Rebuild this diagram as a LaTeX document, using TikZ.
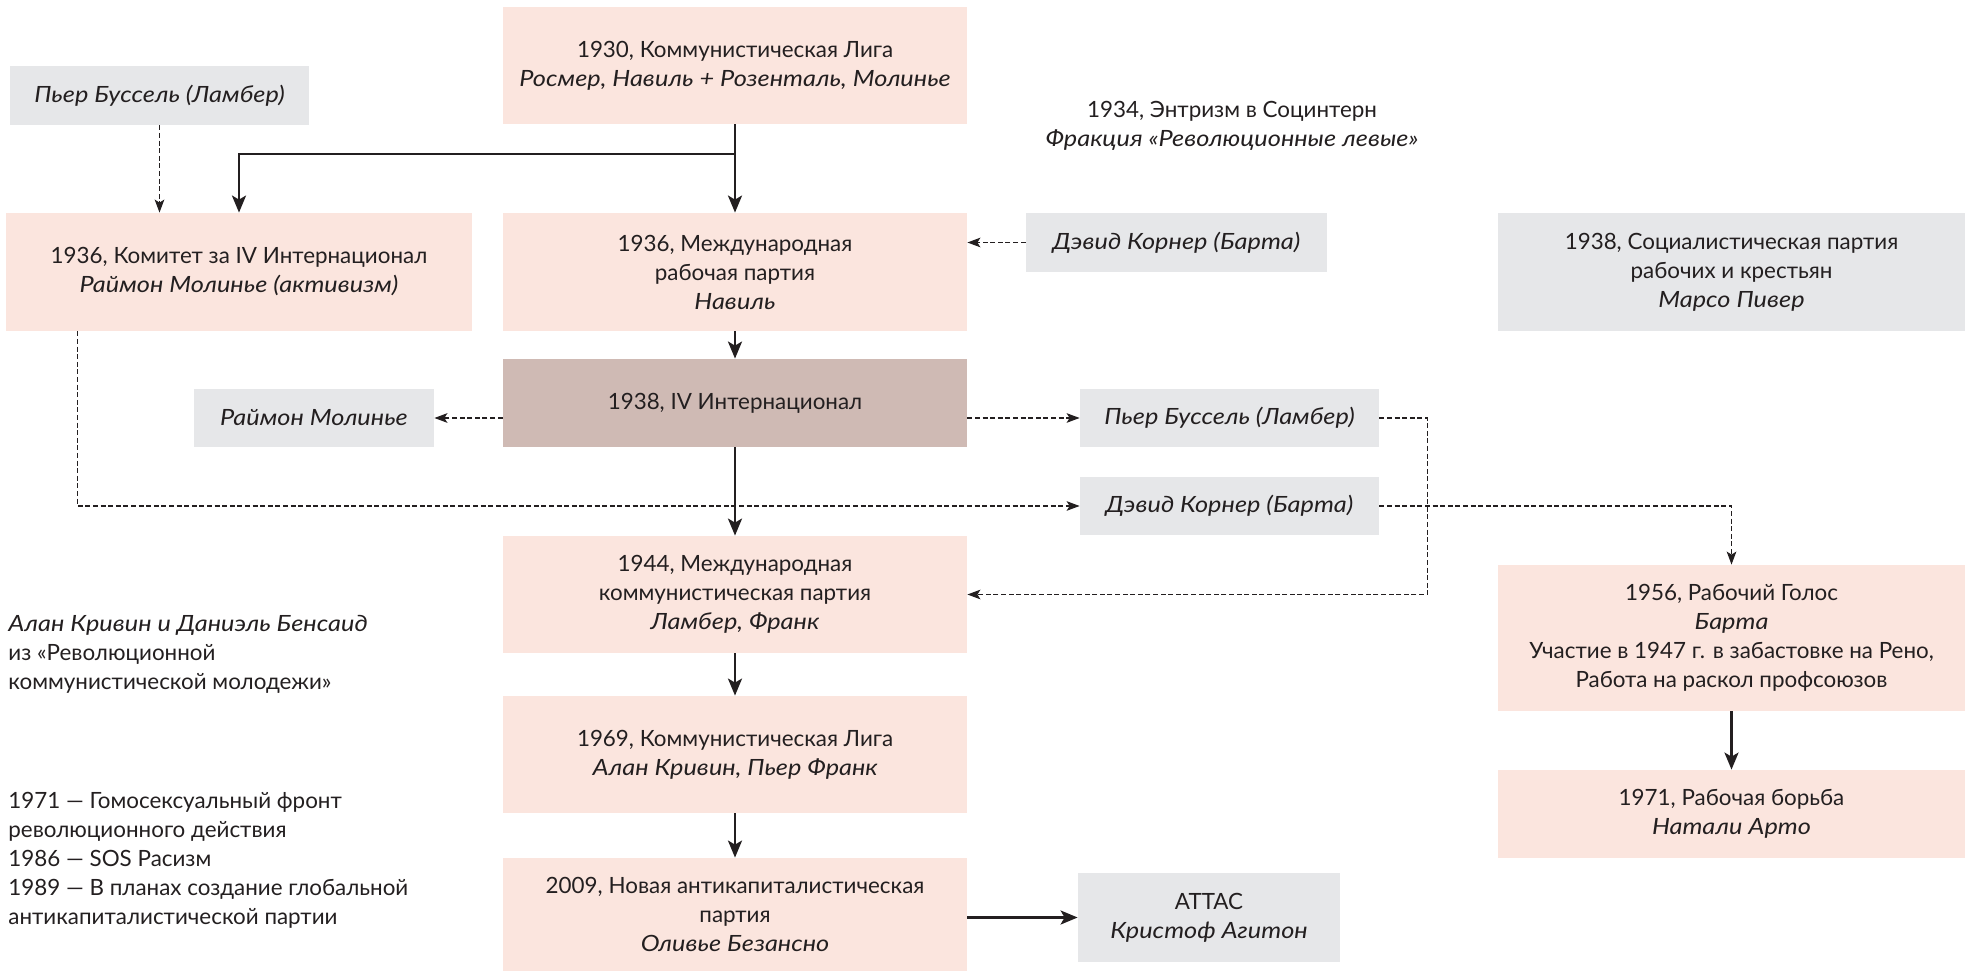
\documentclass[tikz,border=0pt]{standalone}
\usepackage{fontspec}
\setmainfont[ItalicFeatures={FakeStretch=1.13}]{Lato}
\usetikzlibrary{arrows.meta}
\definecolor{pinkbg}{RGB}{251,229,222}
\definecolor{graybg}{RGB}{230,231,233}
\definecolor{taupebg}{RGB}{207,186,180}
\definecolor{txt}{RGB}{35,31,32}
\begin{document}
\begin{tikzpicture}[x=0.5pt,y=-0.5pt,
  box/.style={inner sep=0pt, align=center, text=txt, font=\fontsize{11.2}{14.5}\selectfont},
  pinkbox/.style={box, fill=pinkbg},
  graybox/.style={box, fill=graybg},
  taupebox/.style={box, fill=taupebg},
  sz/.style 2 args={minimum width=#1*0.5pt, minimum height=#2*0.5pt},
  plain/.style={inner sep=0pt, text=txt, font=\fontsize{11.2}{14.5}\selectfont},
  solarr/.style={draw=txt, line width=1.3pt, -{Stealth[length=8.5pt,width=7pt,inset=2pt]}},
  dasharr/.style={draw=txt, line width=0.6pt, dash pattern=on 2.5pt off 1.3pt, -{Stealth[length=6.5pt,width=4.8pt,inset=1.5pt]}},
  dashline/.style={draw=txt, line width=0.6pt, dash pattern=on 2.5pt off 1.3pt}
]
\useasboundingbox (0,0) rectangle (1969,972);

% nodes
\node[pinkbox, sz={464}{117}] (n1930) at (735,65.5) {1930, Коммунистическая Лига\\ \textit{Росмер, Навиль + Розенталь, Молинье}};
\node[graybox, sz={299}{59}] (pb1) at (159.5,95.5) {\textit{Пьер Буссель (Ламбер)}};
\node[pinkbox, sz={466}{118}] (kom) at (239,272) {1936, Комитет за IV Интернационал\\ \textit{Раймон Молинье (активизм)}};
\node[pinkbox, sz={464}{118}] (mrp) at (735,272) {1936, Международная\\ рабочая партия\\ \textit{Навиль}};
\node[graybox, sz={301}{59}] (dk1) at (1176.5,242.5) {\textit{Дэвид Корнер (Барта)}};
\node[plain, align=center] (t1934) at (1232,126) {1934, Энтризм в Социнтерн\\ \textit{Фракция «Революционные левые»}};
\node[graybox, sz={467}{118}] (sprk) at (1731.5,272) {1938, Социалистическая партия\\ рабочих и крестьян\\ \textit{Марсо Пивер}};
\node[taupebox, sz={464}{88}] (ivint) at (735,403) {1938, IV Интернационал};
\node[graybox, sz={240}{58}] (rm) at (314,418) {\textit{Раймон Молинье}};
\node[graybox, sz={299}{58}] (pb2) at (1229.5,418) {\textit{Пьер Буссель (Ламбер)}};
\node[graybox, sz={299}{58}] (dk2) at (1229.5,506) {\textit{Дэвид Корнер (Барта)}};
\node[pinkbox, sz={464}{117}] (n1944) at (735,594.5) {1944, Международная\\ коммунистическая партия\\ \textit{Ламбер, Франк}};
\node[pinkbox, sz={467}{146}] (n1956) at (1731.5,638) {1956, Рабочий Голос\\ \textit{Барта}\\ Участие в 1947 г. в забастовке на Рено,\\ Работа на раскол профсоюзов};
\node[pinkbox, sz={467}{88}] (n1971) at (1731.5,814) {1971, Рабочая борьба\\ \textit{Натали Арто}};
\node[pinkbox, sz={464}{117}] (n1969) at (735,754.5) {1969, Коммунистическая Лига\\ \textit{Алан Кривин, Пьер Франк}};
\node[pinkbox, sz={464}{113}] (n2009) at (735,914.5) {2009, Новая антикапиталистическая\\ партия\\ \textit{Оливье Безансно}};
\node[graybox, sz={262}{89}] (attac) at (1209,917.5) {ATTAC\\ \textit{Кристоф Агитон}};
\node[plain, align=left, anchor=west] (left1) at (8,654) {\textit{Алан Кривин и Даниэль Бенсаид}\\ из «Революционной\\ коммунистической молодежи»};
\node[plain, align=left, anchor=west] (left2) at (8,860) {1971 — Гомосексуальный фронт\\ революционного действия\\ 1986 — SOS Расизм\\ 1989 — В планах создание глобальной\\ антикапиталистической партии};

% connectors
\coordinate (j) at (735,154);
\draw[solarr] (n1930.south) -- (mrp.north);
\draw[solarr] (j) -| (kom.north);
\draw[dasharr] (pb1.south) -- (pb1.south |- kom.north);
\draw[dasharr] (dk1.west) -- (dk1.west -| mrp.east);
\draw[solarr] (mrp) -- (ivint);
\draw[dasharr] (ivint.west |- rm.east) -- (rm.east);
\draw[dasharr] (ivint.east |- pb2.west) -- (pb2.west);
\draw[dasharr] ([xshift=36pt]kom.south west) |- (dk2.west);
\draw[solarr] (ivint) -- (n1944);
\draw[dasharr] (pb2.east) -- ++(24pt,0) |- (n1944.east);
\draw[dasharr] (dk2.east) -| (n1956.north);
\draw[solarr] (n1956) -- (n1971);
\draw[solarr] (n1944) -- (n1969);
\draw[solarr] (n1969) -- (n2009);
\draw[solarr] (n2009.east |- attac.west) -- (attac.west);
\end{tikzpicture}
\end{document}
